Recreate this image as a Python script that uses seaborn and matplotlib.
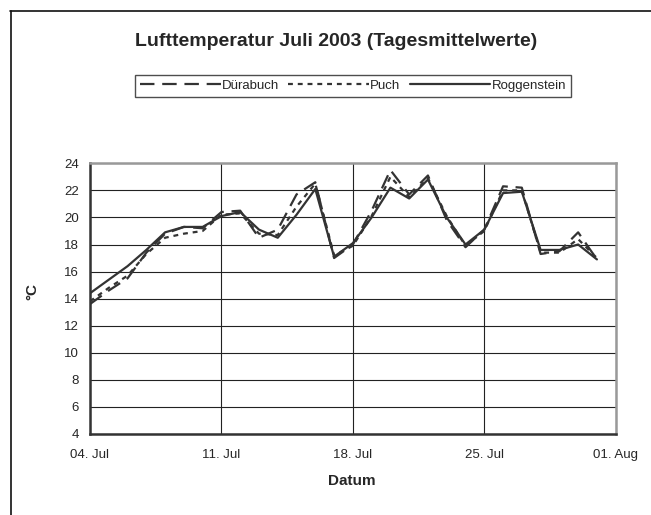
import matplotlib
matplotlib.use("Agg")
import matplotlib.pyplot as plt
import matplotlib.dates as mdates
from matplotlib.lines import Line2D
import numpy as np
import pandas as pd
import seaborn as sns

# ---- data ----
dates = pd.date_range("2003-07-04", "2003-07-31", freq="D")
duerabuch = [13.6, 14.6, 15.5, 17.4, 18.8, 19.3, 19.2, 20.4, 20.5, 18.5, 19.1, 21.7, 22.6, 17.0,
             18.0, 20.5, 23.5, 21.7, 23.1, 19.8, 17.8, 19.1, 22.3, 22.2, 17.3, 17.5, 18.9, 16.9]
puch = [13.8, 14.8, 15.7, 17.3, 18.5, 18.8, 19.0, 20.2, 20.3, 18.8, 18.7, 20.8, 22.5, 17.2,
        17.9, 20.1, 23.0, 21.5, 22.9, 20.1, 17.9, 19.0, 22.0, 22.0, 17.4, 17.4, 18.4, 17.0]
roggenstein = [14.4, 15.4, 16.4, 17.6, 18.9, 19.3, 19.3, 20.1, 20.4, 19.1, 18.5, 20.2, 22.1, 17.1,
               18.1, 20.0, 22.2, 21.4, 22.8, 20.0, 18.0, 19.1, 21.8, 21.9, 17.6, 17.6, 18.0, 16.9]
series_names = ["Dürabuch", "Puch", "Roggenstein"]
title = "Lufttemperatur Juli 2003 (Tagesmittelwerte)"
xlabel = "Datum"
ylabel = "°C"

sns.set_style("white")
plt.rcParams["font.family"] = ["Liberation Sans", "DejaVu Sans"]

fig = plt.figure(figsize=(6.51, 5.15), dpi=100)
W, H = 651, 515
ax = fig.add_axes([90 / W, 1 - 434 / H, (615.7 - 90) / W, (434 - 163.3) / H])

col = "#333333"
styles = {
    "Dürabuch": (0, (6.5, 3.5)),
    "Puch": (0, (2.2, 2.2)),
    "Roggenstein": "-",
}
values = {"Dürabuch": duerabuch, "Puch": puch, "Roggenstein": roggenstein}
for name in series_names:
    df = pd.DataFrame({"date": dates, "val": values[name]})
    sns.lineplot(data=df, x="date", y="val", ax=ax, color=col, linewidth=1.6,
                 linestyle=styles[name], label=name, legend=False)

ax.set_xlim(pd.Timestamp("2003-07-04"), pd.Timestamp("2003-08-01"))
ax.set_ylim(4, 24)
ax.set_yticks(np.arange(4, 25, 2))
ax.xaxis.set_major_locator(mdates.DayLocator(bymonthday=[4, 11, 18, 25, 1]))
ax.xaxis.set_minor_locator(mdates.DayLocator())
ax.xaxis.set_major_formatter(mdates.DateFormatter("%d. %b"))

ax.grid(True, which="major", axis="both", color="#222222", linewidth=0.8)
ax.set_axisbelow(True)
ax.tick_params(axis="both", which="major", direction="out", length=5, width=1,
               color="#333333", labelsize=9.5, pad=3)
ax.tick_params(axis="x", which="minor", direction="out", length=4, width=1, color="#333333")
ax.tick_params(axis="x", which="major", pad=6)

for s in ["left", "bottom"]:
    ax.spines[s].set_color("#333333")
    ax.spines[s].set_linewidth(1.8)
for s in ["top", "right"]:
    ax.spines[s].set_color("#999999")
    ax.spines[s].set_linewidth(1.8)

ax.set_xlabel("")
ax.set_ylabel("")
fig.text(352 / W, 1 - 481 / H, xlabel, ha="center", va="center", fontsize=11, fontweight="bold")
fig.text(32 / W, 1 - 292 / H, ylabel, ha="center", va="center", fontsize=11,
         fontweight="bold", rotation=90)
fig.text(336 / W, 1 - 41 / H, title, ha="center", va="center", fontsize=14, fontweight="bold")

handles = [Line2D([], [], color=col, linewidth=1.6, linestyle=styles[n]) for n in series_names]
leg = fig.legend(handles, series_names, loc="center", ncol=3,
                 bbox_to_anchor=(353 / W, 1 - 86 / H), fontsize=9.5,
                 handlelength=6.1, handletextpad=0.1, columnspacing=0.7,
                 frameon=True, fancybox=False, borderpad=0.4, borderaxespad=0)
leg.get_frame().set_edgecolor("#222222")
leg.get_frame().set_linewidth(1.0)

# outer chart border (top & left visible)
fig.add_artist(Line2D([10 / W, 1.0], [1 - 11 / H, 1 - 11 / H], transform=fig.transFigure,
                      color="#111111", linewidth=1.2))
fig.add_artist(Line2D([10.5 / W, 10.5 / W], [0, 1 - 11 / H], transform=fig.transFigure,
                      color="#111111", linewidth=1.2))

fig.savefig("out.png", dpi=100)
